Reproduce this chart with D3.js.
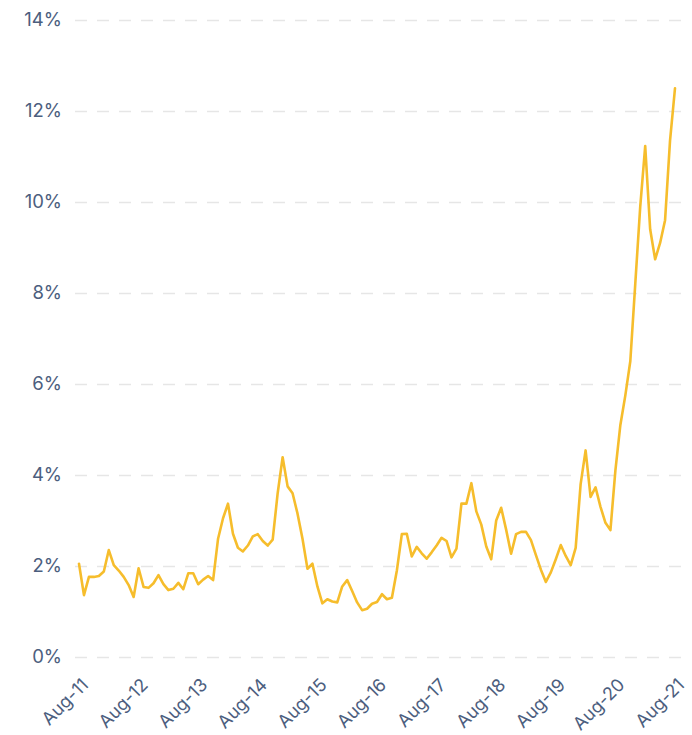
<!DOCTYPE html>
<html>
<head>
<meta charset="utf-8">
<script src="https://cdn.jsdelivr.net/npm/d3@7"></script>
<style>
  html, body { margin: 0; padding: 0; background: #ffffff; }
  svg { display: block; }
  .tick text { font-family: "Inter", "Lato", sans-serif; fill: #4c5e7e; }
</style>
</head>
<body>
<svg id="chart" width="692" height="735"></svg>
<script>
// Monthly rate, Aug 2011 through Aug 2021 (percent)
const rateValues = [
  2.05, 1.36, 1.76, 1.76, 1.78, 1.88, 2.35, 2.02, 1.90, 1.76, 1.58, 1.32,
  1.95, 1.54, 1.52, 1.62, 1.80, 1.60, 1.47, 1.50, 1.63, 1.49, 1.84, 1.84,
  1.60, 1.70, 1.78, 1.69, 2.60, 3.05, 3.37, 2.71, 2.40, 2.32, 2.45, 2.65,
  2.70, 2.55, 2.45, 2.58, 3.60, 4.39, 3.75, 3.60, 3.15, 2.60, 1.94, 2.05,
  1.55, 1.18, 1.27, 1.22, 1.20, 1.55, 1.69, 1.45, 1.20, 1.03, 1.06, 1.17,
  1.21, 1.38, 1.27, 1.30, 1.90, 2.70, 2.71, 2.21, 2.42, 2.28, 2.16, 2.30,
  2.45, 2.62, 2.55, 2.19, 2.38, 3.37, 3.37, 3.82, 3.20, 2.91, 2.43, 2.15,
  3.00, 3.28, 2.80, 2.27, 2.70, 2.75, 2.75, 2.57, 2.24, 1.92, 1.65, 1.86,
  2.15, 2.46, 2.22, 2.02, 2.40, 3.80, 4.54, 3.52, 3.73, 3.30, 2.95, 2.79,
  4.10, 5.10, 5.75, 6.50, 8.20, 9.90, 11.23, 9.40, 8.74, 9.10, 9.60, 11.35,
  12.50
];

// Year ticks along the time axis
const xTickLabels = ["Aug-11", "Aug-12", "Aug-13", "Aug-14", "Aug-15", "Aug-16",
                     "Aug-17", "Aug-18", "Aug-19", "Aug-20", "Aug-21"];

// Percent gridline values
const yTickValues = [0, 2, 4, 6, 8, 10, 12, 14];

const fmtMonth = d3.timeFormat("%b-%y");
const months = d3.timeMonth.range(new Date(2011, 7, 1), new Date(2021, 8, 1)).map(fmtMonth);
const series = months.map((m, i) => ({ month: m, value: rateValues[i] }));

const svg = d3.select("#chart");

const plotLeft = 75, plotRight = 683;
const x = d3.scalePoint().domain(months).range([79, 675]);
const y = d3.scaleLinear().domain([0, 14]).range([657, 20]);

// Horizontal dashed gridlines with percent labels
const yAxis = d3.axisLeft(y)
  .tickValues(yTickValues)
  .tickFormat(d => d + "%")
  .tickSizeInner(-(plotRight - plotLeft))
  .tickSizeOuter(0)
  .tickPadding(13);

const gy = svg.append("g")
  .attr("transform", `translate(${plotLeft},0)`)
  .call(yAxis);
gy.select(".domain").remove();
gy.selectAll(".tick line")
  .attr("stroke", "#e6e6e6")
  .attr("stroke-width", 1.5)
  .attr("stroke-dasharray", "12,10");
gy.selectAll(".tick text")
  .attr("font-size", 18.5);

// Bottom axis with rotated year labels
const xAxis = d3.axisBottom(x)
  .tickValues(xTickLabels)
  .tickSize(0)
  .tickPadding(0);

const gx = svg.append("g")
  .attr("transform", "translate(0,672)")
  .call(xAxis);
gx.select(".domain").remove();
gx.selectAll(".tick text")
  .attr("font-size", 18)
  .attr("text-anchor", "end")
  .attr("dy", 0)
  .attr("y", 0)
  .attr("transform", "translate(10,14) rotate(-45)");

// Rate line
const line = d3.line()
  .x(d => x(d.month))
  .y(d => y(d.value));

svg.append("path")
  .datum(series)
  .attr("fill", "none")
  .attr("stroke", "#f6bd2c")
  .attr("stroke-width", 2.6)
  .attr("stroke-linejoin", "round")
  .attr("stroke-linecap", "round")
  .attr("d", line);
</script>
</body>
</html>
